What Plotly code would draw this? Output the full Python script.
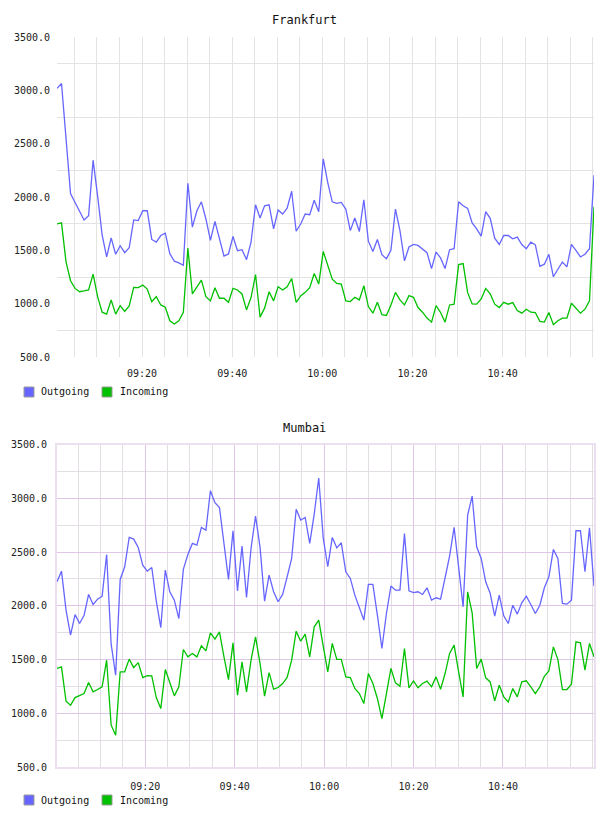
import pandas as pd
import plotly.graph_objects as go

# ---------------- data ----------------
series_names = ["Outgoing", "Incoming"]
chart_titles = ["Frankfurt", "Mumbai"]
time_labels = ["09:20", "09:40", "10:00", "10:20", "10:40"]
day = "2024-01-01"

frankfurt_start = "2024-01-01 09:01:08"
frankfurt_step = "60070ms"
mumbai_start = "2024-01-01 09:00:16"
mumbai_step = "60550ms"

frankfurt_out = [
    3018, 3064, 2550, 2033, 1949, 1865, 1785, 1825, 2345, 2011,
    1645, 1438, 1617, 1463, 1543, 1478, 1524, 1785, 1779, 1871,
    1871, 1602, 1577, 1639, 1661, 1469, 1398, 1382, 1360, 2129,
    1717, 1871, 1955, 1794, 1593, 1772, 1599, 1447, 1466, 1630,
    1497, 1506, 1413, 1577, 1927, 1803, 1918, 1927, 1701, 1878,
    1840, 1896, 2054, 1679, 1747, 1840, 1834, 1970, 1862,
    2358, 2135, 1955, 1940, 1949, 1887, 1685, 1803, 1676, 1974,
    1586, 1490, 1602, 1459, 1422, 1500, 1887, 1685, 1401, 1531,
    1555, 1546, 1515, 1478, 1329, 1484, 1429, 1329, 1506, 1515,
    1955, 1918, 1893, 1757, 1701, 1633, 1862, 1800, 1614, 1555,
    1639, 1639, 1608, 1624, 1555, 1515, 1577, 1552, 1351, 1370,
    1463, 1252, 1323, 1391, 1345, 1555, 1500, 1438, 1463, 1515,
    2203,
]
frankfurt_in = [
    1747, 1757, 1391, 1215, 1143, 1112, 1119, 1128, 1277, 1066,
    920, 902, 1035, 902, 982, 927, 979, 1153, 1150, 1174,
    1137, 1019, 1066, 988, 967, 840, 809, 840, 920, 1521,
    1091, 1159, 1221, 1066, 1026, 1150, 1051, 1051, 1013, 1143,
    1128, 1091, 942, 1057, 1273, 874, 958, 1112, 1026, 1159,
    1128, 1159, 1236, 1013, 1072, 1106, 1150, 1283, 1184,
    1490, 1366, 1230, 1190, 1184, 1026, 1020, 1060, 1035, 1168,
    973, 911, 1013, 896, 889, 988, 1106, 1035, 988, 1075,
    1060, 964, 920, 865, 827, 982, 917, 827, 988, 995,
    1366, 1376, 1103, 998, 995, 1044, 1143, 1091, 995, 964,
    1013, 995, 1010, 936, 911, 948, 920, 917, 834, 827,
    917, 803, 840, 865, 865, 1004, 958, 911, 948, 1026,
    1909,
]
mumbai_out = [
    2224, 2323, 1960, 1727, 1919, 1836, 1913, 2106, 2013, 2062,
    2090, 2478, 1643, 1354, 2246, 2364, 2637, 2621, 2544, 2379,
    2323, 2357, 2044, 1798, 2333, 2131, 2053, 1882, 2339, 2478,
    2581, 2565, 2730, 2705, 3072, 2960, 2916, 2590, 2246, 2699,
    2140, 2556, 2078, 2534, 2836, 2544, 2044, 2286, 2131, 2038,
    2106, 2270, 2441, 2898, 2798, 2823, 2581, 2854, 3190,
    2631, 2364, 2637, 2540, 2587, 2317, 2255, 2100, 1985, 1867,
    2199, 2199, 1913, 1603, 1929, 2184, 2146, 2146, 2674, 2140,
    2124, 2131, 2106, 2168, 2053, 2075, 2062, 2270, 2463, 2730,
    2333, 1991, 2845, 3022, 2550, 2441, 2224, 2115, 1904, 2100,
    1907, 1836, 2006, 1923, 2028, 2090, 2013, 1929, 2006, 2168,
    2270, 2525, 2441, 2022, 2016, 2053, 2699, 2699, 2317, 2727, 2184,
]
mumbai_in = [
    1417, 1432, 1112, 1075, 1146, 1162, 1184, 1286, 1199, 1221,
    1246, 1494, 889, 796, 1386, 1386, 1504, 1426, 1472, 1333,
    1351, 1348, 1146, 1044, 1407, 1286, 1162, 1246, 1594, 1525,
    1556, 1525, 1628, 1581, 1749, 1690, 1758, 1525, 1314, 1656,
    1168, 1479, 1199, 1494, 1711, 1463, 1159, 1379, 1224, 1240,
    1277, 1333, 1494, 1764, 1671, 1736, 1525, 1805, 1867, 1625,
    1385, 1650, 1501, 1501, 1339, 1333, 1231, 1184, 1091, 1370,
    1277, 1138, 951, 1184, 1417, 1283, 1252, 1603, 1237, 1302,
    1237, 1277, 1299, 1246, 1339, 1224, 1370, 1557, 1634, 1385,
    1153, 2131, 1935, 1417, 1504, 1330, 1292, 1115, 1261, 1153,
    1106, 1230, 1153, 1292, 1302, 1246, 1184, 1246, 1345, 1395,
    1618, 1500, 1221, 1221, 1271, 1665, 1656, 1401, 1650, 1525,
]

frankfurt_t = pd.date_range(frankfurt_start, periods=len(frankfurt_out), freq=frankfurt_step)
mumbai_t = pd.date_range(mumbai_start, periods=len(mumbai_out), freq=mumbai_step)
tick_times = [f"{day} {s}" for s in time_labels]

# ---------------- style ----------------
W, H = 608, 816
ML, MR, MT, MB = 57, 14, 37, 49
PW, PH = W - ML - MR, H - MT - MB
OUT_C = "#6666ff"
IN_C = "#00c000"
MONO = "DejaVu Sans Mono, monospace"
GRAY = "#e3e3e3"
PURPLE = "#e0c6e6"
MGRAY = "#e2dee3"


def px_x(x):
    return (x - ML) / PW


def px_y(y):
    return (H - MB - y) / PH


fig = go.Figure()
for t, o, i, xa, ya in [(frankfurt_t, frankfurt_out, frankfurt_in, "x", "y"),
                        (mumbai_t, mumbai_out, mumbai_in, "x2", "y2")]:
    fig.add_trace(go.Scatter(x=t, y=o, name=series_names[0], mode="lines",
                             line=dict(color=OUT_C, width=1.3), xaxis=xa, yaxis=ya,
                             showlegend=False))
    fig.add_trace(go.Scatter(x=t, y=i, name=series_names[1], mode="lines",
                             line=dict(color=IN_C, width=1.3), xaxis=xa, yaxis=ya,
                             showlegend=False))

tickfont = dict(family=MONO, size=10, color="#222")


def xaxis(t, anchor, major_color, minor_color):
    return dict(
        type="date", range=[t[0], t[-1]], anchor=anchor,
        tickmode="array", tickvals=tick_times, ticktext=time_labels,
        showgrid=True, gridcolor=major_color, gridwidth=1,
        minor=dict(tick0=f"{day} 09:00", dtick=5 * 60 * 1000,
                   showgrid=True, gridcolor=minor_color, gridwidth=1),
        zeroline=False, ticks="", tickfont=tickfont, ticklabelstandoff=9,
    )


def yaxis(domain, anchor, major_grid, major_color, minor_color):
    return dict(
        domain=domain, anchor=anchor, range=[500, 3500],
        tick0=500, dtick=500, tickformat=".1f",
        showgrid=major_grid, gridcolor=major_color, gridwidth=1,
        minor=dict(tick0=750, dtick=500, showgrid=True, gridcolor=minor_color, gridwidth=1),
        zeroline=False, ticks="", tickfont=tickfont, ticklabelstandoff=6,
    )


y1_dom = [px_y(357), 1.0]
y2_dom = [0.0, px_y(444.7)]

layout = dict(
    width=W, height=H, margin=dict(l=ML, r=MR, t=MT, b=MB),
    paper_bgcolor="white", plot_bgcolor="white",
    xaxis=xaxis(frankfurt_t, "y", GRAY, GRAY),
    yaxis=yaxis(y1_dom, "x", False, GRAY, GRAY),
    xaxis2=xaxis(mumbai_t, "y2", PURPLE, MGRAY),
    yaxis2=yaxis(y2_dom, "x2", True, PURPLE, MGRAY),
    showlegend=False,
)
layout["xaxis2"].update(showline=True, mirror=True, linecolor="#ecdff0", linewidth=2)
layout["yaxis2"].update(showline=True, mirror=True, linecolor="#ecdff0", linewidth=2)
fig.update_layout(**layout)

annotations = []
shapes = []
for title, ty, ly in [(chart_titles[0], 20, 392), (chart_titles[1], 428, 800)]:
    annotations.append(dict(text=title, xref="paper", yref="paper", x=px_x(304), y=px_y(ty),
                            xanchor="center", yanchor="middle", showarrow=False,
                            font=dict(family=MONO, size=12, color="#111")))
    for name, color, sx, tx in [(series_names[0], OUT_C, 24, 39), (series_names[1], IN_C, 102, 118)]:
        shapes.append(dict(type="rect", xref="paper", yref="paper",
                           x0=px_x(sx), x1=px_x(sx + 10), y0=px_y(ly - 5), y1=px_y(ly + 5),
                           fillcolor=color, line=dict(color="#9a9a9a", width=1)))
        annotations.append(dict(text=name, xref="paper", yref="paper", x=px_x(tx), y=px_y(ly),
                                xanchor="left", yanchor="middle", showarrow=False,
                                font=dict(family=MONO, size=10, color="#111")))
fig.update_layout(annotations=annotations, shapes=shapes)

fig.write_html("out.html")
